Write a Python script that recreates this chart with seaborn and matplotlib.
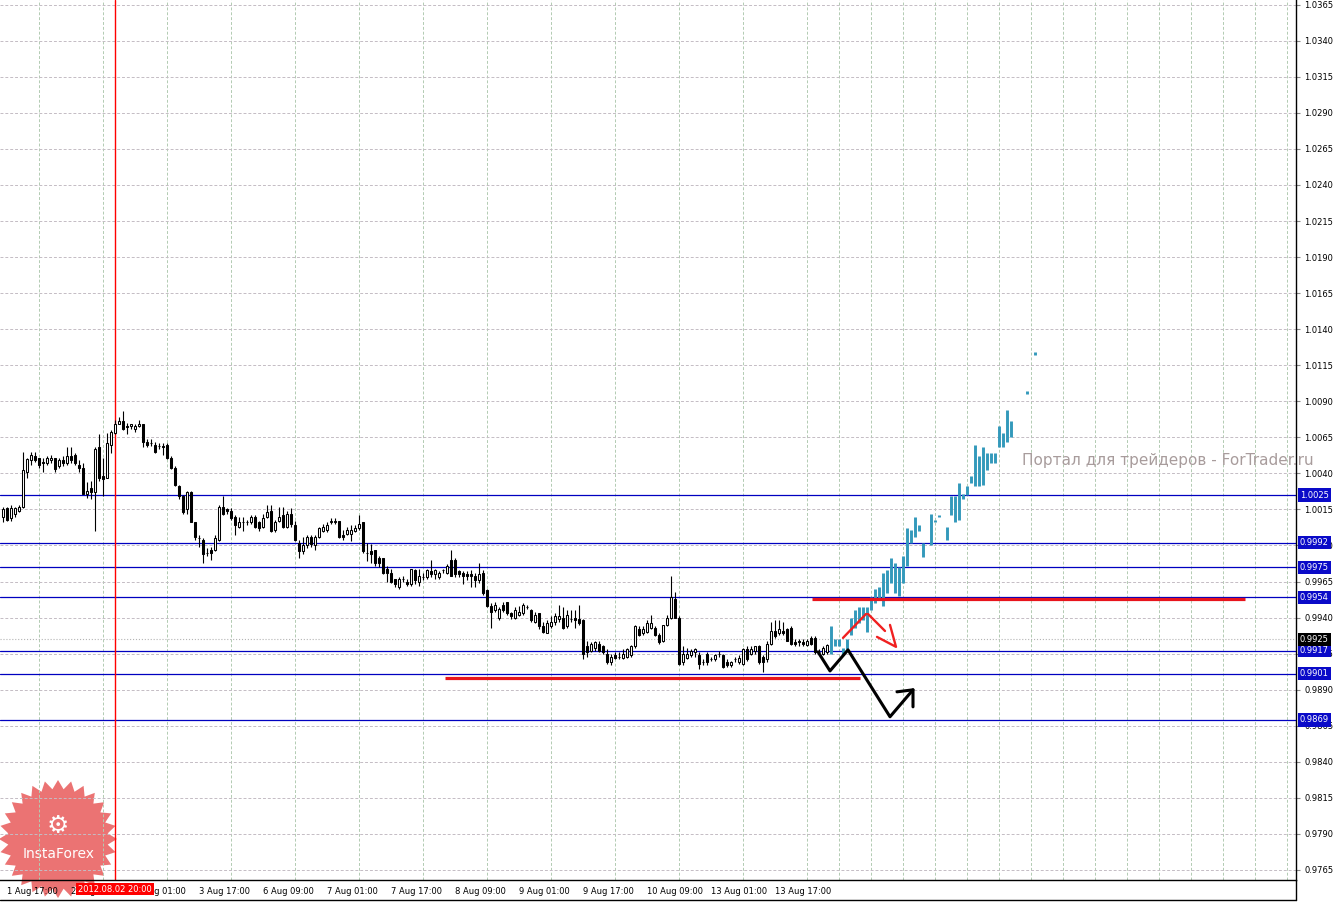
import numpy as np
import pandas as pd
import seaborn as sns
import matplotlib.pyplot as plt
from matplotlib.ticker import FixedLocator, FormatStrFormatter
from matplotlib.patches import Polygon

# H1 candles, bar index -1 = 1 Aug 16:00
first_bar = -1
opens = [1.0010, 1.0016, 1.0009, 1.0012, 1.0014, 1.0017, 1.0041, 1.0049, 1.0052, 1.0051,
         1.0048, 1.0047, 1.0049, 1.0051, 1.0045, 1.0049, 1.0047, 1.0052, 1.0053, 1.0046,
         1.0044, 1.0026, 1.0030, 1.0027, 1.0058, 1.0038, 1.0037, 1.0060, 1.0068, 1.0074,
         1.0076, 1.0073, 1.0073, 1.0071, 1.0073, 1.0074, 1.0062, 1.0061, 1.0060, 1.0059,
         1.0059, 1.0060, 1.0051, 1.0044, 1.0031, 1.0024, 1.0015, 1.0027, 1.0006, 0.9995,
         0.9994, 0.9985, 0.9987, 0.9987, 0.9994, 1.0017, 1.0015, 1.0014, 1.0010, 1.0003,
         1.0006, 1.0006, 1.0006, 1.0010, 1.0006, 1.0003, 1.0010, 1.0014, 1.0001, 1.0007,
         1.0011, 1.0003, 1.0012, 1.0004, 0.9992, 0.9986, 0.9990, 0.9996, 0.9990, 0.9996,
         1.0000, 1.0001, 1.0006, 1.0007, 1.0007, 0.9997, 0.9998, 0.9998, 1.0000, 1.0002,
         1.0006, 0.9985, 0.9986, 0.9987, 0.9981, 0.9981, 0.9974, 0.9971, 0.9967, 0.9961,
         0.9967, 0.9965, 0.9963, 0.9973, 0.9965, 0.9968, 0.9968, 0.9972, 0.9970, 0.9968,
         0.9973, 0.9971, 0.9980, 0.9980, 0.9972, 0.9971, 0.9970, 0.9970, 0.9969, 0.9966,
         0.9971, 0.9959, 0.9948, 0.9945, 0.9940, 0.9949, 0.9951, 0.9943, 0.9940, 0.9942,
         0.9943, 0.9947, 0.9945, 0.9937, 0.9943, 0.9934, 0.9929, 0.9934, 0.9937, 0.9939,
         0.9940, 0.9934, 0.9939, 0.9940, 0.9939, 0.9938, 0.9920, 0.9917, 0.9919, 0.9922,
         0.9920, 0.9915, 0.9909, 0.9914, 0.9913, 0.9912, 0.9913, 0.9914, 0.9920, 0.9932,
         0.9929, 0.9930, 0.9933, 0.9933, 0.9928, 0.9924, 0.9935, 0.9940, 0.9953, 0.9940,
         0.9909, 0.9912, 0.9914, 0.9916, 0.9914, 0.9909, 0.9915, 0.9911, 0.9911, 0.9915,
         0.9914, 0.9909, 0.9907, 0.9911, 0.9909, 0.9908, 0.9918, 0.9915, 0.9917, 0.9920,
         0.9913, 0.9911, 0.9922, 0.9931, 0.9929, 0.9931, 0.9932, 0.9933, 0.9923, 0.9924,
         0.9923, 0.9921, 0.9926, 0.9926, 0.9916, 0.9915, 0.9916]
highs = [1.0017, 1.0017, 1.0018, 1.0017, 1.0018, 1.0055, 1.0051, 1.0055, 1.0055, 1.0051,
         1.0051, 1.0052, 1.0053, 1.0051, 1.0051, 1.0052, 1.0058, 1.0058, 1.0054, 1.0049,
         1.0047, 1.0034, 1.0035, 1.0058, 1.0067, 1.0051, 1.0068, 1.0070, 1.0077, 1.0079,
         1.0083, 1.0075, 1.0074, 1.0074, 1.0077, 1.0074, 1.0064, 1.0064, 1.0062, 1.0061,
         1.0061, 1.0061, 1.0052, 1.0045, 1.0032, 1.0025, 1.0028, 1.0028, 1.0006, 0.9997,
         0.9995, 0.9988, 0.9989, 0.9997, 1.0018, 1.0024, 1.0016, 1.0016, 1.0011, 1.0010,
         1.0010, 1.0008, 1.0011, 1.0011, 1.0007, 1.0012, 1.0018, 1.0018, 1.0008, 1.0017,
         1.0017, 1.0014, 1.0016, 1.0007, 0.9994, 0.9996, 0.9997, 0.9997, 0.9997, 1.0003,
         1.0005, 1.0006, 1.0009, 1.0009, 1.0007, 1.0001, 1.0003, 1.0004, 1.0004, 1.0011,
         1.0006, 0.9992, 0.9991, 0.9987, 0.9983, 0.9981, 0.9976, 0.9974, 0.9967, 0.9968,
         0.9969, 0.9967, 0.9974, 0.9974, 0.9974, 0.9971, 0.9974, 0.9980, 0.9974, 0.9972,
         0.9974, 0.9977, 0.9987, 0.9981, 0.9973, 0.9972, 0.9972, 0.9973, 0.9971, 0.9978,
         0.9973, 0.9960, 0.9950, 0.9951, 0.9947, 0.9951, 0.9951, 0.9944, 0.9947, 0.9948,
         0.9950, 0.9949, 0.9946, 0.9944, 0.9943, 0.9937, 0.9938, 0.9941, 0.9943, 0.9949,
         0.9947, 0.9945, 0.9945, 0.9945, 0.9949, 0.9939, 0.9924, 0.9923, 0.9924, 0.9924,
         0.9921, 0.9918, 0.9915, 0.9916, 0.9916, 0.9918, 0.9919, 0.9921, 0.9935, 0.9934,
         0.9934, 0.9938, 0.9942, 0.9934, 0.9929, 0.9935, 0.9942, 0.9969, 0.9958, 0.9941,
         0.9920, 0.9919, 0.9918, 0.9919, 0.9916, 0.9911, 0.9916, 0.9913, 0.9915, 0.9917,
         0.9915, 0.9911, 0.9910, 0.9913, 0.9914, 0.9919, 0.9920, 0.9920, 0.9920, 0.9921,
         0.9914, 0.9924, 0.9937, 0.9938, 0.9938, 0.9937, 0.9933, 0.9934, 0.9925, 0.9925,
         0.9925, 0.9925, 0.9927, 0.9927, 0.9918, 0.9920, 0.9922]
lows = [1.0006, 1.0007, 1.0007, 1.0010, 1.0013, 1.0016, 1.0037, 1.0046, 1.0048, 1.0044,
        1.0041, 1.0046, 1.0047, 1.0041, 1.0044, 1.0045, 1.0046, 1.0047, 1.0046, 1.0041,
        1.0026, 1.0023, 1.0022, 1.0000, 1.0035, 1.0024, 1.0037, 1.0054, 1.0067, 1.0074,
        1.0070, 1.0067, 1.0071, 1.0069, 1.0072, 1.0058, 1.0058, 1.0059, 1.0054, 1.0057,
        1.0053, 1.0050, 1.0043, 1.0031, 1.0022, 1.0012, 1.0012, 1.0006, 0.9994, 0.9989,
        0.9978, 0.9983, 0.9980, 0.9986, 0.9993, 1.0011, 1.0012, 1.0008, 0.9997, 1.0002,
        1.0000, 1.0004, 1.0005, 1.0002, 1.0000, 1.0002, 1.0009, 0.9999, 0.9999, 1.0006,
        1.0002, 1.0002, 1.0003, 0.9993, 0.9981, 0.9984, 0.9988, 0.9989, 0.9987, 0.9995,
        0.9999, 0.9999, 1.0005, 1.0005, 0.9995, 0.9994, 0.9997, 0.9993, 0.9999, 1.0001,
        0.9985, 0.9979, 0.9978, 0.9976, 0.9975, 0.9970, 0.9965, 0.9964, 0.9961, 0.9960,
        0.9965, 0.9962, 0.9962, 0.9963, 0.9962, 0.9966, 0.9967, 0.9968, 0.9967, 0.9967,
        0.9971, 0.9970, 0.9969, 0.9968, 0.9968, 0.9963, 0.9966, 0.9961, 0.9961, 0.9964,
        0.9956, 0.9947, 0.9933, 0.9944, 0.9938, 0.9944, 0.9942, 0.9939, 0.9939, 0.9941,
        0.9942, 0.9946, 0.9937, 0.9936, 0.9932, 0.9929, 0.9929, 0.9933, 0.9935, 0.9937,
        0.9932, 0.9933, 0.9937, 0.9933, 0.9935, 0.9911, 0.9913, 0.9916, 0.9917, 0.9916,
        0.9915, 0.9908, 0.9907, 0.9911, 0.9911, 0.9911, 0.9912, 0.9913, 0.9919, 0.9927,
        0.9928, 0.9929, 0.9932, 0.9927, 0.9922, 0.9923, 0.9934, 0.9939, 0.9940, 0.9907,
        0.9907, 0.9911, 0.9913, 0.9913, 0.9904, 0.9907, 0.9907, 0.9910, 0.9910, 0.9913,
        0.9905, 0.9906, 0.9906, 0.9909, 0.9908, 0.9907, 0.9910, 0.9914, 0.9915, 0.9908,
        0.9902, 0.9909, 0.9921, 0.9926, 0.9928, 0.9928, 0.9924, 0.9921, 0.9920, 0.9920,
        0.9920, 0.9920, 0.9921, 0.9915, 0.9914, 0.9914, 0.9915]
closes = [1.0015, 1.0008, 1.0016, 1.0016, 1.0017, 1.0042, 1.0050, 1.0053, 1.0049, 1.0046,
          1.0047, 1.0051, 1.0051, 1.0043, 1.0049, 1.0047, 1.0052, 1.0049, 1.0047, 1.0044,
          1.0026, 1.0028, 1.0027, 1.0057, 1.0037, 1.0036, 1.0061, 1.0069, 1.0074, 1.0076,
          1.0071, 1.0072, 1.0074, 1.0073, 1.0074, 1.0062, 1.0060, 1.0061, 1.0055, 1.0059,
          1.0058, 1.0051, 1.0044, 1.0032, 1.0024, 1.0013, 1.0027, 1.0006, 0.9996, 0.9995,
          0.9984, 0.9985, 0.9985, 0.9995, 1.0017, 1.0012, 1.0014, 1.0009, 1.0004, 1.0006,
          1.0006, 1.0006, 1.0010, 1.0003, 1.0002, 1.0009, 1.0013, 1.0000, 1.0006, 1.0010,
          1.0003, 1.0012, 1.0005, 0.9994, 0.9986, 0.9990, 0.9996, 0.9991, 0.9996, 1.0002,
          1.0003, 1.0004, 1.0007, 1.0006, 0.9996, 0.9996, 1.0001, 1.0001, 1.0002, 1.0005,
          0.9986, 0.9985, 0.9984, 0.9978, 0.9978, 0.9971, 0.9971, 0.9965, 0.9963, 0.9967,
          0.9967, 0.9963, 0.9974, 0.9966, 0.9969, 0.9968, 0.9973, 0.9970, 0.9973, 0.9971,
          0.9973, 0.9976, 0.9969, 0.9970, 0.9970, 0.9969, 0.9969, 0.9969, 0.9966, 0.9970,
          0.9957, 0.9948, 0.9944, 0.9949, 0.9946, 0.9945, 0.9943, 0.9941, 0.9945, 0.9944,
          0.9949, 0.9947, 0.9938, 0.9942, 0.9934, 0.9930, 0.9936, 0.9937, 0.9941, 0.9941,
          0.9933, 0.9942, 0.9939, 0.9938, 0.9936, 0.9915, 0.9916, 0.9922, 0.9923, 0.9917,
          0.9916, 0.9909, 0.9913, 0.9912, 0.9913, 0.9915, 0.9918, 0.9920, 0.9934, 0.9928,
          0.9932, 0.9936, 0.9936, 0.9928, 0.9923, 0.9935, 0.9940, 0.9954, 0.9940, 0.9908,
          0.9915, 0.9915, 0.9917, 0.9918, 0.9908, 0.9909, 0.9909, 0.9911, 0.9914, 0.9915,
          0.9906, 0.9907, 0.9909, 0.9911, 0.9912, 0.9918, 0.9911, 0.9918, 0.9920, 0.9909,
          0.9909, 0.9922, 0.9931, 0.9927, 0.9932, 0.9929, 0.9924, 0.9922, 0.9922, 0.9923,
          0.9922, 0.9924, 0.9922, 0.9916, 0.9916, 0.9919, 0.9921]

# forecast bars (high-low only), starting at bar 206
fc_first = 206
fc_high = [0.9934, 0.9925, 0.9925, 0.9919, 0.9925, 0.9940, 0.9945, 0.9947, 0.9947, 0.9947,
           0.9954, 0.9960, 0.9961, 0.9971, 0.9973, 0.9981, 0.9978, 0.9975, 0.9983, 1.0002,
           1.0001, 1.0010, 1.0004, 0.9992, None, 1.0012, 1.0008, 1.0011, None, 1.0003,
           1.0024, 1.0024, 1.0033, 1.0026, 1.0031, 1.0038, 1.0060, 1.0052, 1.0058, 1.0054,
           1.0054, 1.0054, 1.0073, 1.0068, 1.0084, 1.0076, None, None, None, 1.0097,
           None, 1.0124]
fc_low = [0.9915, 0.9920, 0.9920, 0.9914, 0.9918, 0.9928, 0.9933, 0.9936, 0.9938, 0.9930,
          0.9945, 0.9950, 0.9952, 0.9948, 0.9957, 0.9964, 0.9957, 0.9955, 0.9964, 0.9976,
          0.9992, 0.9996, 1.0000, 0.9982, None, 0.9990, 1.0006, 1.0010, None, 0.9994,
          1.0011, 1.0006, 1.0008, 1.0022, 1.0025, 1.0033, 1.0031, 1.0031, 1.0032, 1.0042,
          1.0047, 1.0047, 1.0058, 1.0058, 1.0062, 1.0065, None, None, None, 1.0095,
          None, 1.0122]

time_labels = ["1 Aug 17:00", "2 Aug 09:00", "3 Aug 01:00", "3 Aug 17:00", "6 Aug 09:00",
               "7 Aug 01:00", "7 Aug 17:00", "8 Aug 09:00", "9 Aug 01:00", "9 Aug 17:00",
               "10 Aug 09:00", "13 Aug 01:00", "13 Aug 17:00"]
label_step = 16

blue_levels = [1.0025, 0.9992, 0.9975, 0.9954, 0.9917, 0.9901, 0.9869]
bid_price = 0.9925
marker_bar = 27
marker_text = "2012.08.02 20:00"

# drawn objects (bar index, price)
red_upper = ([201.25, 309.5], [0.99526, 0.99526])
red_lower = ([109.5, 213.25], [0.98982, 0.98982])
zig_x = [202.75, 205.75, 210.25, 220.75, 226.5]
zig_y = [0.99162, 0.99030, 0.99176, 0.98712, 0.98899]
zig_head_x = [222.5, 226.5, 226.5]
zig_head_y = [0.98885, 0.98899, 0.98781]
red_up_x = [209.0, 214.75]
red_up_y = [0.99259, 0.99425]
red_dn_x = [215.25, 219.5]
red_dn_y = [0.99425, 0.99307]
red_head_x = [217.5, 222.25, 220.75]
red_head_y = [0.99266, 0.99197, 0.99349]

sns.set_style("white")
plt.rcParams['font.family'] = ['DejaVu Sans']

W, H = 1338, 902
fig = plt.figure(figsize=(W / 100, H / 100), dpi=100)
fig.patch.set_facecolor("white")

# background layer for the logo and frame
bg = fig.add_axes([0, 0, 1, 1], zorder=0)
bg.set_xlim(0, W)
bg.set_ylim(H, 0)
bg.axis("off")
n_sp = 28
ang = np.arange(2 * n_sp) * np.pi / n_sp - np.pi / 2
rad = np.where(np.arange(2 * n_sp) % 2 == 0, 59, 50)
star = np.column_stack([58 + rad * np.cos(ang), 839 + rad * np.sin(ang)])
bg.add_patch(Polygon(star, closed=True, facecolor="#e85a5a", edgecolor="none", alpha=0.85))
bg.text(58, 826, "\u2699", color="white", fontsize=18, ha="center", va="center")
bg.text(59, 854, "InstaForex", color="white", fontsize=10, ha="center", va="center")
bg.plot([0, 1296], [900, 900], color="black", lw=1)
bg.plot([1296, 1296], [880, 900], color="black", lw=1)

ax = fig.add_axes([0, 22 / H, 1296 / W, 880 / H], zorder=1)
ax.set_facecolor("none")

df = pd.DataFrame({"open": opens, "high": highs, "low": lows, "close": closes})
df["bar"] = np.arange(len(df)) + first_bar
up = df["close"] >= df["open"]
body_lo = df[["open", "close"]].min(axis=1)
body_h = (df["close"] - df["open"]).abs()

ax.vlines(df["bar"], df["low"], df["high"], color="black", lw=0.8, zorder=3)
ax.bar(df["bar"], body_h, bottom=body_lo, width=0.6,
       color=np.where(up, "white", "black"), edgecolor="black", lw=0.75, zorder=4)

fc = pd.DataFrame({"high": fc_high, "low": fc_low}, dtype=float)
fc["bar"] = np.arange(len(fc)) + fc_first
fc = fc.dropna()
ax.vlines(fc["bar"], fc["low"], fc["high"], color="#3399bb", lw=2.1, zorder=4)

for lv in blue_levels:
    ax.axhline(lv, color="#0000c0", lw=0.9, zorder=2)
ax.axhline(bid_price, color="#b4b4b4", lw=0.8, ls=":", zorder=2)
ax.axvline(marker_bar, color="#ff0000", lw=1.0, zorder=2)

ax.plot(*red_upper, color="#e8141c", lw=2.3, solid_capstyle="butt", zorder=5)
ax.plot(*red_lower, color="#e8141c", lw=2.3, solid_capstyle="butt", zorder=5)
sns.lineplot(x=zig_x, y=zig_y, sort=False, estimator=None, color="black", lw=2.2, ax=ax, zorder=6)
sns.lineplot(x=zig_head_x, y=zig_head_y, sort=False, estimator=None, color="black", lw=2.2, ax=ax, zorder=6)
for xs, ys in [(red_up_x, red_up_y), (red_dn_x, red_dn_y), (red_head_x, red_head_y)]:
    sns.lineplot(x=xs, y=ys, sort=False, estimator=None, color="#f02020", lw=1.7, ax=ax, zorder=6)

# axes, grid, ticks
ax.set_xlim(-1.75, 322.25)
ax.set_ylim(0.97580, 1.03683)
yt = np.round(np.arange(0.9765, 1.0366, 0.0025), 4)
ax.yaxis.set_major_locator(FixedLocator(yt))
ax.yaxis.set_major_formatter(FormatStrFormatter("%.4f"))
ax.yaxis.tick_right()
ax.set_xticks(np.arange(len(time_labels)) * label_step)
ax.set_xticklabels(time_labels, ha="left")
ax.xaxis.set_minor_locator(FixedLocator(np.arange(0, 323, 8)))
ax.tick_params(axis="both", which="major", labelsize=6, length=3, width=0.8,
               direction="out", pad=2, color="black", labelcolor="black")
ax.tick_params(axis="x", which="minor", length=0)
ax.tick_params(axis="y", which="major", pad=3, color="#888888")
ax.grid(False)
ax.grid(True, axis="x", which="minor", color="#b2cbb2", lw=0.7, ls=(0, (3, 2)))
ax.grid(True, axis="y", which="major", color="#c4bcc4", lw=0.7, ls=(0, (3, 2)))
for s in ["left", "top"]:
    ax.spines[s].set_visible(False)
for s in ["right", "bottom"]:
    ax.spines[s].set_color("black")
    ax.spines[s].set_linewidth(1.0)
ax.set_xlabel("")
ax.set_ylabel("")

# price tags on the right scale
for lv in blue_levels:
    ax.annotate(f"{lv:.4f}", xy=(1.003, lv), xycoords=("axes fraction", "data"),
                ha="left", va="center", fontsize=6, color="white", zorder=10,
                annotation_clip=False,
                bbox=dict(boxstyle="square,pad=0.25", fc="#0a0ac8", ec="none"))
ax.annotate(f"{bid_price:.4f}", xy=(1.003, bid_price), xycoords=("axes fraction", "data"),
            ha="left", va="center", fontsize=6, color="white", zorder=10,
            annotation_clip=False,
            bbox=dict(boxstyle="square,pad=0.25", fc="black", ec="none"))
ax.annotate(marker_text, xy=(marker_bar, -0.0105), xycoords=("data", "axes fraction"),
            ha="center", va="center", fontsize=6, color="white", zorder=10,
            annotation_clip=False,
            bbox=dict(boxstyle="square,pad=0.2", fc="#ff0000", ec="none"))

fig.text(1022 / W, 1 - 461 / H, "Портал для трейдеров - ForTrader.ru",
         fontsize=11, color="#a89c9c", ha="left", va="center", zorder=3)

fig.savefig("out.png", dpi=100, facecolor="white")
